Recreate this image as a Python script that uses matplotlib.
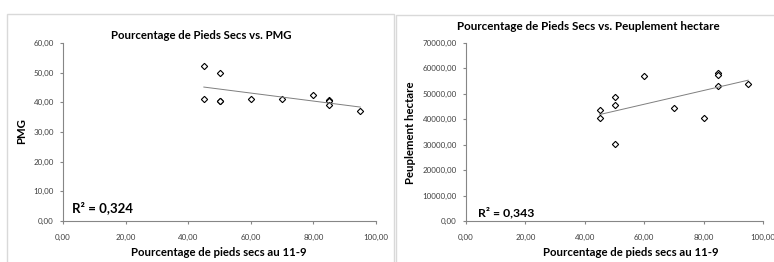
import matplotlib.pyplot as plt
from matplotlib.patches import Rectangle
from matplotlib.ticker import FuncFormatter
import numpy as np

plt.rcParams['font.family'] = ['Lato', 'DejaVu Sans']

# Pourcentage de pieds secs au 11-9
pct_secs = [45, 45, 50, 50, 50, 60, 70, 80, 85, 85, 85, 95]
# PMG
pmg = [52.4, 41.0, 50.0, 40.6, 40.4, 41.0, 41.2, 42.5, 40.8, 40.6, 39.0, 37.2]
# Peuplement hectare
peuplement = [43500, 40400, 48600, 45600, 30100, 57100, 44600, 40400,
              58200, 57300, 52900, 53900]

W, H = 774, 262
fig = plt.figure(figsize=(W / 100, H / 100), dpi=100)

# chart frames (Excel chart area borders)
fig.patches.append(Rectangle((7 / W, -0.1), (394 - 7) / W, (H - 14) / H + 0.1,
                             transform=fig.transFigure, fill=False,
                             edgecolor='#d9d9d9', lw=1))
fig.patches.append(Rectangle((396 / W, -0.1), 1.0, (H - 15) / H + 0.1,
                             transform=fig.transFigure, fill=False,
                             edgecolor='#d9d9d9', lw=1))

fmt = FuncFormatter(lambda v, p: f"{v:.2f}".replace('.', ','))


def style(ax, ymax, ystep):
    ax.set_xlim(0, 100)
    ax.set_ylim(0, ymax)
    ax.set_xticks(np.arange(0, 101, 20))
    ax.set_yticks(np.arange(0, ymax + 1, ystep))
    ax.xaxis.set_major_formatter(fmt)
    ax.yaxis.set_major_formatter(fmt)
    for s in ['top', 'right']:
        ax.spines[s].set_visible(False)
    for s in ['left', 'bottom']:
        ax.spines[s].set_color('#868686')
        ax.spines[s].set_linewidth(0.8)
    ax.tick_params(colors='#868686', labelcolor='#404040', labelsize=5.8,
                   length=2.5, width=0.8)
    ax.tick_params(axis='x', pad=6.5)
    ax.tick_params(axis='y', pad=4)


def trend(ax, x, y):
    m, b = np.polyfit(x, y, 1)
    xs = np.array([min(x), max(x)])
    ax.plot(xs, m * xs + b, color='#7f7f7f', lw=0.7)


# left chart
ax1 = fig.add_axes([63 / W, 1 - 221 / H, (376 - 63) / W, (221 - 43) / H])
style(ax1, 60, 10)
ax1.plot(pct_secs, pmg, 'D', ms=3.2, mfc='white', mec='black', mew=0.8)
trend(ax1, pct_secs, pmg)
fig.text(201 / W, 1 - 35 / H, 'Pourcentage de Pieds Secs vs. PMG',
         ha='center', va='center', fontsize=8.2, fontweight='bold')
fig.text(22 / W, 1 - 131 / H, 'PMG', rotation=90, ha='center', va='center',
         fontsize=8.2, fontweight='bold')
fig.text(219 / W, 1 - 253 / H, 'Pourcentage de pieds secs au 11-9',
         ha='center', va='center', fontsize=8.2, fontweight='bold')
fig.text(72 / W, 1 - 208 / H, 'R² = 0,324', ha='left', va='center',
         fontsize=9.5, fontweight='bold')

# right chart
ax2 = fig.add_axes([466 / W, 1 - 221 / H, (763 - 466) / W, (221 - 43) / H])
style(ax2, 70000, 10000)
ax2.plot(pct_secs, peuplement, 'D', ms=3.2, mfc='white', mec='black', mew=0.8)
trend(ax2, pct_secs, peuplement)
fig.text(588 / W, 1 - 26 / H, 'Pourcentage de Pieds Secs vs. Peuplement hectare',
         ha='center', va='center', fontsize=8.4, fontweight='bold')
fig.text(410 / W, 1 - 133 / H, 'Peuplement hectare', rotation=90, ha='center',
         va='center', fontsize=8.2, fontweight='bold')
fig.text(631 / W, 1 - 253 / H, 'Pourcentage de pieds secs au 11-9',
         ha='center', va='center', fontsize=8.2, fontweight='bold')
fig.text(478 / W, 1 - 213 / H, 'R² = 0,343', ha='left', va='center',
         fontsize=8.8, fontweight='bold')

fig.savefig('out.png', dpi=100)
